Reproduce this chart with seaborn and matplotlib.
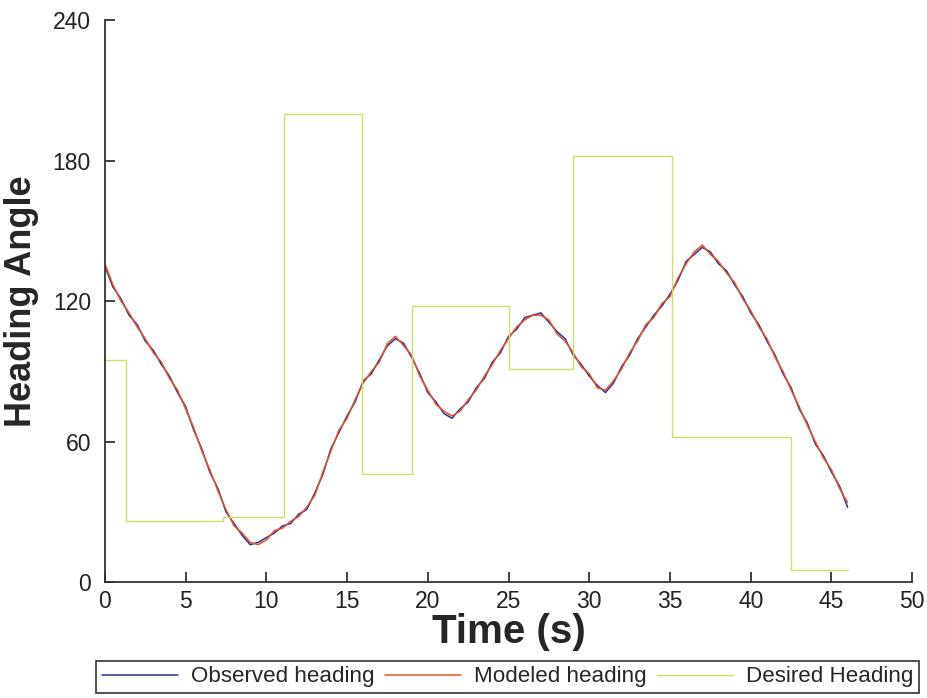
import matplotlib
matplotlib.use("Agg")
import matplotlib.pyplot as plt
import seaborn as sns
import pandas as pd

# time base for the heading traces (s)
time_s = [0, 0.5, 1, 1.5, 2, 2.5, 3, 3.5, 4, 4.5, 5, 5.5, 6, 6.5, 7, 7.5, 8, 8.5, 9, 9.5,
          10, 10.5, 11, 11.5, 12, 12.5, 13, 13.5, 14, 14.5, 15, 15.5, 16, 16.5, 17, 17.5, 18, 18.5, 19, 19.5,
          20, 20.5, 21, 21.5, 22, 22.5, 23, 23.5, 24, 24.5, 25, 25.5, 26, 26.5, 27, 27.5, 28, 28.5, 29, 29.5,
          30, 30.5, 31, 31.5, 32, 32.5, 33, 33.5, 34, 34.5, 35, 35.5, 36, 36.5, 37, 37.5, 38, 38.5, 39, 39.5,
          40, 40.5, 41, 41.5, 42, 42.5, 43, 43.5, 44, 44.5, 45, 45.5, 46]

observed = [135, 126, 121, 114, 110, 103, 99, 93, 88, 81, 75, 65, 57, 47, 40, 30, 25, 20, 16, 17,
            19, 21, 24, 25, 29, 31, 38, 46, 57, 64, 71, 77, 86, 89, 95, 101, 104, 102, 96, 89,
            81, 77, 72, 70, 74, 77, 83, 87, 94, 98, 105, 108, 113, 114, 115, 111, 107, 104, 97, 93,
            88, 84, 81, 85, 92, 97, 104, 109, 114, 118, 123, 129, 137, 140, 143, 141, 136, 133, 127, 122,
            115, 110, 103, 97, 89, 83, 74, 68, 59, 54, 47, 41, 32]

modeled = [136, 127, 120, 115, 109, 104, 98, 94, 87, 82, 74, 66, 56, 48, 39, 31, 24, 21, 17, 16,
           18, 22, 23, 26, 28, 32, 37, 47, 56, 65, 70, 78, 85, 90, 94, 102, 105, 101, 97, 88,
           82, 76, 73, 71, 73, 78, 82, 88, 93, 99, 104, 109, 112, 114, 114, 112, 106, 103, 98, 92,
           89, 83, 82, 86, 91, 98, 103, 110, 113, 119, 122, 130, 136, 141, 144, 140, 137, 132, 128, 121,
           116, 109, 104, 96, 90, 82, 75, 67, 60, 53, 48, 40, 34]

# desired heading set-points (step changes)
desired_t = [0, 1.3, 7.3, 11.1, 15.9, 19.0, 25.0, 29.0, 35.1, 42.5, 46.0]
desired_v = [95, 26, 28, 200, 46, 118, 91, 182, 62, 5, 5]

df = pd.DataFrame({"t": time_s, "observed": observed, "modeled": modeled})
des = pd.DataFrame({"t": desired_t, "v": desired_v})

sns.set_style("ticks")
plt.rcParams["font.family"] = ["Liberation Sans", "DejaVu Sans"]

fig = plt.figure(figsize=(9.28, 6.98), dpi=100)
ax = fig.add_axes([0.113, 0.166, 0.870, 0.805])

sns.lineplot(data=df, x="t", y="observed", ax=ax, color="#2b2f8f", lw=1.1, label="Observed heading")
sns.lineplot(data=df, x="t", y="modeled", ax=ax, color="#e4532b", lw=1.1, label="Modeled heading")
sns.lineplot(data=des, x="t", y="v", ax=ax, color="#c8e06a", lw=1.0, drawstyle="steps-post",
             label="Desired Heading")

ax.set_xlim(0, 50)
ax.set_ylim(0, 240)
ax.set_xticks(range(0, 51, 5))
ax.set_yticks([0, 60, 120, 180, 240])
ax.tick_params(direction="in", length=7, width=1.2, labelsize=16.5, colors="#222222")
ax.tick_params(axis="x", pad=6)
ax.tick_params(axis="y", pad=10)
for s in ["left", "bottom"]:
    ax.spines[s].set_linewidth(1.3)
    ax.spines[s].set_color("#333333")
sns.despine(ax=ax)

ax.set_xlabel("Time (s)", fontsize=29, fontweight="bold", labelpad=0)
ax.set_ylabel("Heading Angle", fontsize=26, fontweight="bold", labelpad=10)

ax.get_legend().remove()
h, l = ax.get_legend_handles_labels()
leg = fig.legend(h, l, loc="lower center", bbox_to_anchor=(0.547, 0.004), ncol=3, frameon=True,
                 fancybox=False, edgecolor="black", fontsize=16.1, handlelength=3.4,
                 columnspacing=0.45, handletextpad=0.6, borderpad=0.25, borderaxespad=0.1)
leg.get_frame().set_linewidth(1.2)

fig.savefig("out.png", dpi=100)
